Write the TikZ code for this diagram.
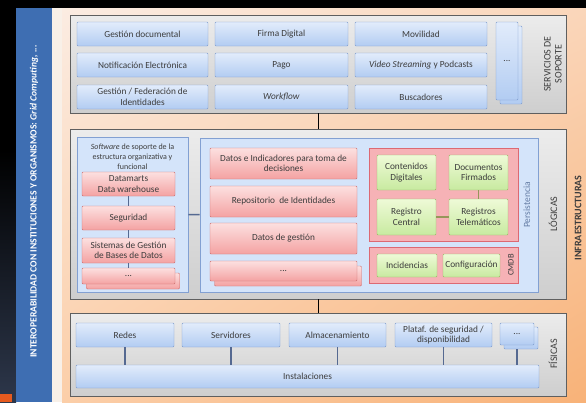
\documentclass[tikz,border=0pt]{standalone}
\usepackage{fontspec}
\setmainfont{Carlito}
\usepackage{tikz}
\usetikzlibrary{shadings}
\definecolor{boxtext}{RGB}{60, 60, 60}
\definecolor{leftlow}{RGB}{45, 55, 75}
\definecolor{orangebit}{RGB}{230, 90, 30}
\definecolor{barblue}{RGB}{62, 110, 178}
\definecolor{stripc}{RGB}{248, 240, 232}
\definecolor{bgul}{RGB}{251, 236, 226}
\definecolor{bgur}{RGB}{250, 214, 186}
\definecolor{bgll}{RGB}{251, 206, 168}
\definecolor{bglr}{RGB}{248, 178, 120}
\definecolor{panelline}{RGB}{95, 95, 95}
\definecolor{panelhi}{RGB}{236, 236, 236}
\definecolor{panello}{RGB}{206, 206, 206}
\definecolor{blueline}{RGB}{125, 155, 205}
\definecolor{bluehi}{RGB}{226, 236, 251}
\definecolor{bluelo}{RGB}{178, 204, 242}
\definecolor{holdline}{RGB}{130, 160, 210}
\definecolor{holdfill}{RGB}{212, 228, 250}
\definecolor{pinkline}{RGB}{205, 110, 110}
\definecolor{pinkhi}{RGB}{252, 224, 224}
\definecolor{pinklo}{RGB}{244, 162, 162}
\definecolor{persfill}{RGB}{246, 178, 182}
\definecolor{persline}{RGB}{220, 105, 115}
\definecolor{greenline}{RGB}{150, 185, 100}
\definecolor{greenhi}{RGB}{238, 250, 215}
\definecolor{greenlo}{RGB}{200, 234, 160}
\definecolor{linkc}{RGB}{85, 105, 145}
\definecolor{glinkc}{RGB}{150, 150, 90}

\begin{document}
\begin{tikzpicture}[x=1pt, y=-1pt,
  font=\fontsize{9.3}{10.5}\selectfont, text=boxtext,
  panel/.style={draw=panelline, top color=panelhi, bottom color=panello, line width=0.8pt},
  bluebox/.style={draw=blueline, top color=bluehi, bottom color=bluelo, rounded corners=1pt, align=center, inner sep=1pt},
  pinkbox/.style={draw=pinkline, top color=pinkhi, bottom color=pinklo, rounded corners=1pt, align=center, inner sep=1pt},
  greenbox/.style={draw=greenline, top color=greenhi, bottom color=greenlo, rounded corners=1pt, align=center, inner sep=1pt},
  holder/.style={draw=holdline, fill=holdfill, line width=0.8pt},
  redholder/.style={draw=persline, fill=persfill, line width=0.8pt},
  layer/.style={rotate=90, font=\fontsize{10}{11}\selectfont, align=center},
  link/.style={draw=linkc, line width=1.3pt},
]
\useasboundingbox (0,0) rectangle (586,402);
% Background
\fill[black] (0,0) rectangle (586,402);
\shade[top color=black, bottom color=leftlow] (0,150) rectangle (16,402);
\fill[orangebit] (0,394) rectangle (12,402);
\fill[barblue] (16,8) rectangle (52,402);
\fill[stripc] (52,8) rectangle (62,402);
\shade[upper left=bgul, upper right=bgur, lower left=bgll, lower right=bglr] (62,8) rectangle (586,402);
\node[rotate=90, text=white, font=\fontsize{9.6}{11}\selectfont\bfseries] (interop) at (34,201.5)
  {INTEROPERABILIDAD CON INSTITUCIONES Y ORGANISMOS: \textit{Grid Computing, ...}};
\node[rotate=90, font=\fontsize{10}{11}\selectfont\bfseries] (infra) at (578,218) {INFRAESTRUCTURAS};

% Servicios de soporte
\node[panel, minimum width=496, minimum height=98] (psop) at (318,64) {};
\node[bluebox, minimum width=131, minimum height=24] (gesdoc) at (142.5,34) {Gestión documental};
\node[bluebox, minimum width=133, minimum height=24] (firma) at (281.5,34) {Firma Digital};
\node[bluebox, minimum width=132, minimum height=24] (movil) at (421,34) {Movilidad};
\node[bluebox, minimum width=131, minimum height=24] (notif) at (142.5,65) {Notificación Electrónica};
\node[bluebox, minimum width=133, minimum height=24] (pago) at (281.5,65) {Pago};
\node[bluebox, minimum width=132, minimum height=24] (video) at (421,65) {\textit{Video Streaming} y Podcasts};
\node[bluebox, minimum width=131, minimum height=24] (federa) at (142.5,97) {Gestión / Federación de\\Identidades};
\node[bluebox, minimum width=133, minimum height=24] (workf) at (281.5,97) {\textit{Workflow}};
\node[bluebox, minimum width=132, minimum height=24] (busca) at (421,97) {Buscadores};
\node[bluebox, minimum width=22, minimum height=78] (sopmoreb) at (511,65) {};
\node[bluebox, minimum width=22, minimum height=78] (sopmore) at (507,61) {...};
\node[layer] (lsop) at (553,64) {SERVICIOS DE\\SOPORTE};

% Logicas
\node[panel, minimum width=496, minimum height=170] (plog) at (318,214) {};
\node[holder, minimum width=111, minimum height=155] (softsop) at (132.5,214.5) {};
\node[anchor=north, align=center, font=\fontsize{8}{10}\selectfont] (softtxt) at (132.5,140)
  {\textit{Software} de soporte de la\\estructura organizativa y\\funcional};
\node[pinkbox, minimum width=93, minimum height=24] (datam) at (128.5,184) {Datamarts\\Data warehouse};
\node[pinkbox, minimum width=93, minimum height=24] (segur) at (128.5,218) {Seguridad};
\node[pinkbox, minimum width=93, minimum height=25] (sgbd) at (128.5,250.5) {Sistemas de Gestión\\de Bases de Datos};
\node[pinkbox, minimum width=93, minimum height=16] (softmoreb) at (133,281) {};
\node[pinkbox, minimum width=93, minimum height=16] (softmore) at (128.5,276) {...};
\draw[link] (datam) -- (segur);
\draw[link] (segur) -- (sgbd);
\draw[link] (sgbd) -- (softmore);

\node[holder, minimum width=338, minimum height=154] (datbox) at (369,215) {};
\draw[link] (softsop) -- (datbox);
\node[pinkbox, minimum width=147, minimum height=31] (indic) at (283.5,163.5) {Datos e Indicadores para toma de\\decisiones};
\node[pinkbox, minimum width=147, minimum height=31] (repo) at (283.5,201.5) {Repositorio\ \ de Identidades};
\node[pinkbox, minimum width=147, minimum height=31] (gestion) at (283.5,238.5) {Datos de gestión};
\node[pinkbox, minimum width=147, minimum height=20] (datmoreb) at (288,276) {};
\node[pinkbox, minimum width=147, minimum height=20] (datmore) at (283.5,271) {...};

\node[redholder, minimum width=149, minimum height=93] (pers) at (443.5,194.5) {};
\node[greenbox, minimum width=59, minimum height=35] (conten) at (406.5,172.5) {Contenidos\\Digitales};
\node[greenbox, minimum width=59, minimum height=35] (docfir) at (478.5,172.5) {Documentos\\Firmados};
\node[greenbox, minimum width=59, minimum height=36] (regcen) at (406.5,217) {Registro\\Central};
\node[greenbox, minimum width=59, minimum height=36] (regtel) at (478.5,217) {Registros\\Telemáticos};
\draw[glinkc, line width=1.3pt] (regcen) -- (regtel);
\draw[glinkc, line width=1.3pt] (docfir) -- (regtel);
\node[rotate=90, text=blueline!80!black, font=\fontsize{9.5}{10}\selectfont] (lpers) at (527,205) {Persistencia};

\node[redholder, minimum width=149, minimum height=36] (cmdb) at (443.5,265) {};
\node[greenbox, minimum width=60, minimum height=23] (incid) at (407,265.5) {Incidencias};
\node[greenbox, minimum width=57, minimum height=23] (config) at (471.5,265.5) {Configuración};
\node[rotate=90, font=\fontsize{8.5}{9}\selectfont] (lcmdb) at (511,265) {CMDB};
\node[layer] (llog) at (553,214) {LÓGICAS};

% Fisicas
\node[panel, minimum width=496, minimum height=83] (pfis) at (318,354.5) {};
\node[bluebox, minimum width=463, minimum height=23] (insta) at (307.5,376.5) {Instalaciones};
\node[bluebox, minimum width=98, minimum height=24] (redes) at (125,335) {Redes};
\node[bluebox, minimum width=98, minimum height=24] (servi) at (231,335) {Servidores};
\node[bluebox, minimum width=97, minimum height=24] (almac) at (337.5,335) {Almacenamiento};
\node[bluebox, minimum width=97, minimum height=24] (plataf) at (443.5,335) {Plataf. de seguridad /\\disponibilidad};
\node[bluebox, minimum width=34, minimum height=22] (fismoreb) at (521,338) {};
\node[bluebox, minimum width=34, minimum height=22] (fismore) at (517,334) {...};
\foreach \b in {redes,servi,almac,plataf}
  \draw[link] (\b) -- (\b |- insta.north);
\draw[link] (fismoreb.south -| fismore) -- (fismore |- insta.north);
\node[layer] (lfis) at (553,354) {FÍSICAS};

% Panel connectors
\draw[black, line width=0.8pt] (psop) -- (plog);
\draw[black, line width=0.8pt] (plog) -- (pfis);
\end{tikzpicture}
\end{document}
